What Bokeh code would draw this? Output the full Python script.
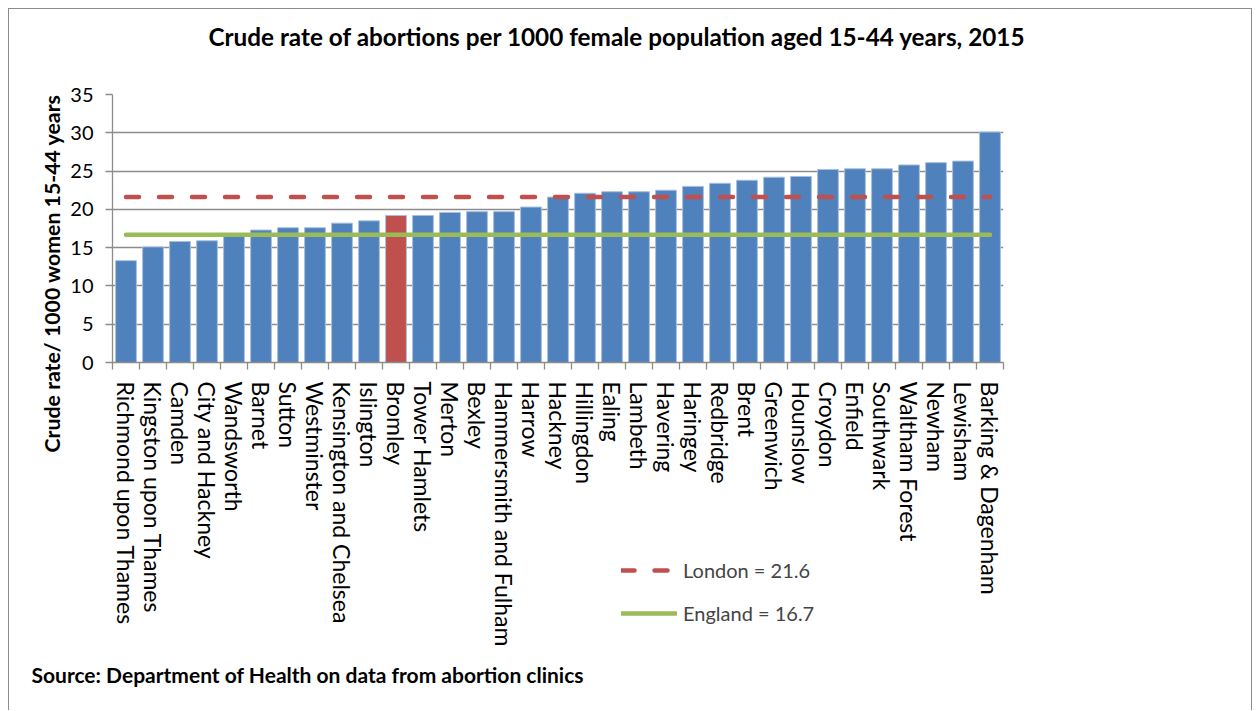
import numpy as np
from bokeh.plotting import figure
from bokeh.models import (FixedTicker, Range1d, Title, Legend, LegendItem, ColumnDataSource)
from bokeh.embed import file_html
from bokeh.resources import INLINE

# ---------------- data ----------------
boroughs = ["Richmond upon Thames", "Kingston upon Thames", "Camden", "City and Hackney",
            "Wandsworth", "Barnet", "Sutton", "Westminster", "Kensington and Chelsea",
            "Islington", "Bromley", "Tower Hamlets", "Merton", "Bexley",
            "Hammersmith and Fulham", "Harrow", "Hackney", "Hillingdon", "Ealing",
            "Lambeth", "Havering", "Haringey", "Redbridge", "Brent", "Greenwich",
            "Hounslow", "Croydon", "Enfield", "Southwark", "Waltham Forest", "Newham",
            "Lewisham", "Barking & Dagenham"]
rates = [13.3, 15.1, 15.8, 15.9, 16.6, 17.3, 17.6, 17.6, 18.2, 18.5, 19.2, 19.2, 19.6,
         19.7, 19.7, 20.3, 21.6, 22.1, 22.3, 22.3, 22.5, 23.0, 23.4, 23.8, 24.2, 24.3,
         25.2, 25.3, 25.3, 25.8, 26.1, 26.3, 30.1]
highlight = "Bromley"
london_rate = 21.6
england_rate = 16.7
y_ticks = [0, 5, 10, 15, 20, 25, 30, 35]

title_text = "Crude rate of abortions per 1000 female population aged 15-44 years, 2015"
y_label_text = "Crude rate/ 1000 women 15-44 years"
source_text = "Source:  Department of Health on data from abortion clinics"
london_label = "London = 21.6"
england_label = "England = 16.7"

# ---------------- styling ----------------
FONT = "Lato"
BLUE = "#4F81BD"
RED = "#C0504D"
GREEN = "#9BBB59"
GRID = "#8C8C8C"

n = len(boroughs)
xs = list(range(n))
colors = [RED if b == highlight else BLUE for b in boroughs]
src = ColumnDataSource(dict(x=xs, top=rates, color=colors, name=boroughs))

p = figure(width=1244, height=702, output_backend="svg", toolbar_location=None,
           x_range=Range1d(-0.5, n - 0.5), y_range=Range1d(0, 35),
           min_border_left=104, min_border_right=249, min_border_top=86,
           min_border_bottom=348, title=None)
p.margin = (8, 0, 0, 8)
p.outline_line_color = None
p.border_fill_color = None
p.background_fill_color = "white"
p.styles = {"box-shadow": "inset 1px 1px 0 0 #8c8c8c, inset -1px 0 0 0 #8c8c8c"}

# main title (a trailing blank line lifts it towards the top edge, as in the original)
p.add_layout(Title(text=title_text + "\n", align="left", offset=96, standoff=26,
                   vertical_align="top",
                   text_font=FONT, text_font_style="bold", text_font_size="24.3px",
                   text_color="black"), "above")

p.vbar(x="x", top="top", width=0.77, fill_color="color", line_color="#A7BFDE",
       line_width=1, source=src)

x_line = [xs[0], xs[-1]]
line_styles = dict(london=dict(line_color=RED, line_width=4.5, line_dash="13 20",
                               line_cap="round"),
                   england=dict(line_color=GREEN, line_width=4.5, line_cap="round"))
p.line(x_line, [london_rate, london_rate], **line_styles["london"])
p.line(x_line, [england_rate, england_rate], **line_styles["england"])

# axes
xa = p.xaxis[0]
xa.ticker = FixedTicker(ticks=xs, minor_ticks=[i - 0.5 for i in range(n + 1)])
xa.major_label_overrides = {i: b for i, b in zip(xs, boroughs)}
xa.major_label_orientation = "vertical"
xa.major_tick_out = 0
xa.major_tick_in = 0
xa.minor_tick_out = 7
xa.minor_tick_in = 0
xa.minor_tick_line_color = GRID
xa.minor_tick_line_width = 1.3
xa.axis_line_color = GRID
xa.axis_line_width = 1.3
xa.major_label_text_font = FONT
xa.major_label_text_font_size = "23px"
xa.major_label_text_color = "black"
xa.major_label_standoff = 12

ya = p.yaxis[0]
ya.ticker = FixedTicker(ticks=y_ticks)
ya.major_tick_out = 7
ya.major_tick_in = 0
ya.minor_tick_line_color = None
ya.major_tick_line_color = GRID
ya.major_tick_line_width = 1.3
ya.axis_line_color = GRID
ya.axis_line_width = 1.3
ya.major_label_text_font = FONT
ya.major_label_text_font_size = "20px"
ya.major_label_text_color = "black"
ya.major_label_standoff = 12

p.xgrid.grid_line_color = None
p.ygrid.grid_line_color = GRID
p.ygrid.grid_line_width = 1.3
p.ygrid.ticker = FixedTicker(ticks=y_ticks)

# y-axis title (side-panel title, shifted like the original)
p.add_layout(Title(text=y_label_text, align="left", offset=-90, standoff=6,
                   text_font=FONT, text_font_style="bold", text_font_size="21.3px",
                   text_color="black"), "left")

# source note
p.add_layout(Title(text=source_text, align="left", offset=-81, standoff=20,
                   text_font=FONT, text_font_style="bold", text_font_size="21px",
                   text_color="black"), "below")

# legend: a small separate root figure, positioned over the label area
q = figure(width=260, height=75, output_backend="svg", toolbar_location=None,
           x_range=Range1d(-1, 0), y_range=Range1d(-1, 0),
           x_axis_location=None, y_axis_location=None,
           min_border=0, title=None)
q.grid.visible = False
q.outline_line_color = None
q.background_fill_color = None
q.border_fill_color = None
ql = q.line(x_line, [london_rate, london_rate], **line_styles["london"])
qe = q.line(x_line, [england_rate, england_rate], **line_styles["england"])
legend = Legend(items=[LegendItem(label=london_label, renderers=[ql]),
                       LegendItem(label=england_label, renderers=[qe])],
                location="top_left", orientation="vertical",
                padding=0, margin=0, spacing=19,
                glyph_width=56, glyph_height=20, label_standoff=6,
                label_text_font=FONT, label_text_font_size="20px",
                border_line_color=None, background_fill_alpha=0)
q.add_layout(legend, "center")
q.styles = {"position": "absolute", "left": "621px", "top": "558px",
            "width": "260px", "height": "75px", "z-index": "10"}

open("out.html", "w").write(file_html([p, q], INLINE))
